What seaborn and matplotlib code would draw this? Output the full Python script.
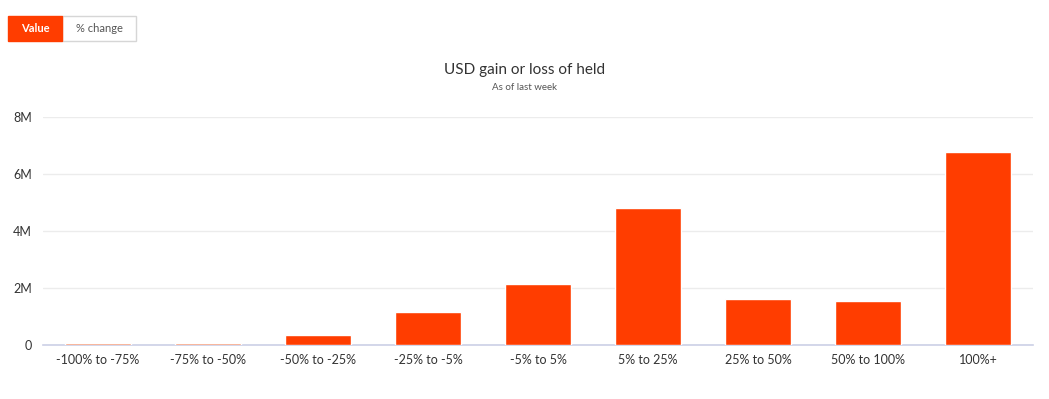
import matplotlib.pyplot as plt
import pandas as pd
import seaborn as sns
from matplotlib.patches import FancyBboxPatch
from matplotlib.ticker import FuncFormatter

# values (USD millions)
categories = [
    "-100% to -75%", "-75% to -50%", "-50% to -25%", "-25% to -5%", "-5% to 5%",
    "5% to 25%", "25% to 50%", "50% to 100%", "100%+",
]
values_m = [0.04, 0.04, 0.32, 1.16, 2.12, 4.80, 1.59, 1.53, 6.78]
y_ticks_m = [0, 2, 4, 6, 8]

BAR = "#ff3d00"
TEXT = "#333333"

df = pd.DataFrame({"bucket": categories, "value": [v * 1e6 for v in values_m]})

sns.set_style("white")
plt.rcParams["font.family"] = ["Lato", "DejaVu Sans"]

fig = plt.figure(figsize=(10.49, 3.99), dpi=100)
ax = fig.add_axes([43 / 1049, 1 - 344.5 / 399, 990 / 1049, 227.5 / 399])

sns.barplot(data=df, x="bucket", y="value", color=BAR, width=0.6,
            saturation=1, ax=ax)
# tiny bars look paler in the reference
for patch, v in zip(ax.patches, values_m):
    patch.set_zorder(3)
    if v < 0.1:
        patch.set_facecolor("#f48a5e")

ax.set_xlim(-0.5, len(categories) - 0.5)
ax.set_ylim(0, 8e6)
ax.set_yticks([t * 1e6 for t in y_ticks_m])
ax.yaxis.set_major_formatter(FuncFormatter(lambda v, _: "0" if v == 0 else f"{v / 1e6:.0f}M"))
ax.grid(axis="y", color="#ececec", linewidth=1)
ax.set_axisbelow(True)
for side in ["top", "right", "left"]:
    ax.spines[side].set_visible(False)
ax.spines["bottom"].set_color("#ccd0e6")
ax.spines["bottom"].set_linewidth(1.2)
ax.spines["bottom"].set_zorder(1)
ax.tick_params(axis="both", length=0, labelsize=9, colors=TEXT)
ax.tick_params(axis="x", pad=7)
ax.tick_params(axis="y", pad=8)
ax.set_xlabel("")
ax.set_ylabel("")

fig.text(0.5, 1 - 70 / 399, "USD gain or loss of held", ha="center", va="center",
         fontsize=11, color=TEXT)
fig.text(0.5, 1 - 88 / 399, "As of last week", ha="center", va="center",
         fontsize=7, color="#555555")

# toggle buttons top left
btn_ax = fig.add_axes([0, 0, 1, 1], facecolor="none")
btn_ax.set_xlim(0, 1049)
btn_ax.set_ylim(399, 0)
btn_ax.axis("off")
btn_ax.add_patch(FancyBboxPatch((62, 16), 74, 25, boxstyle="square,pad=0",
                                facecolor="white", edgecolor="#d6d6d6", linewidth=1))
btn_ax.add_patch(FancyBboxPatch((8, 16), 54, 25, boxstyle="square,pad=0",
                                facecolor=BAR, edgecolor=BAR, linewidth=1))
btn_ax.text(35, 28.5, "Value", ha="center", va="center", fontsize=8,
            color="white", fontweight="bold")
btn_ax.text(99, 28.5, "% change", ha="center", va="center", fontsize=8, color="#555555")

fig.savefig("out.png", dpi=100)
